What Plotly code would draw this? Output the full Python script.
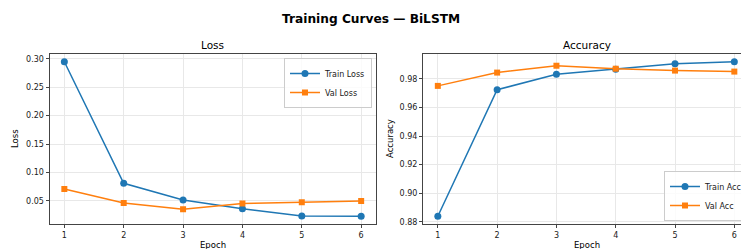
import plotly.graph_objects as go

epochs = [1, 2, 3, 4, 5, 6]
train_loss = [0.2948, 0.0810, 0.0515, 0.0362, 0.0235, 0.0230]
val_loss = [0.0708, 0.0463, 0.0353, 0.0456, 0.0478, 0.0498]
train_acc = [0.8839, 0.9724, 0.9832, 0.9867, 0.9906, 0.9920]
val_acc = [0.9751, 0.9844, 0.9892, 0.9871, 0.9858, 0.9851]
loss_ticks = [0.05, 0.10, 0.15, 0.20, 0.25, 0.30]
acc_ticks = [0.88, 0.90, 0.92, 0.94, 0.96, 0.98]

W, H = 741, 249
BLUE = "#1f77b4"
ORANGE = "#ff7f0e"
FONT = "DejaVu Sans"
TXT = "#1a1a1a"


def pad_range(*series):
    vals = [v for s in series for v in s]
    lo, hi = min(vals), max(vals)
    m = 0.05 * (hi - lo)
    return [lo - m, hi + m]


def px_x(p):
    return p / W


def px_y(p):
    return (H - p) / H


fig = go.Figure()

fig.add_trace(go.Scatter(x=epochs, y=train_loss, name="Train Loss", mode="lines+markers",
                         line=dict(color=BLUE, width=1.5), marker=dict(symbol="circle", size=7, color=BLUE),
                         xaxis="x", yaxis="y", legend="legend"))
fig.add_trace(go.Scatter(x=epochs, y=val_loss, name="Val Loss", mode="lines+markers",
                         line=dict(color=ORANGE, width=1.5), marker=dict(symbol="square", size=6, color=ORANGE),
                         xaxis="x", yaxis="y", legend="legend"))
fig.add_trace(go.Scatter(x=epochs, y=train_acc, name="Train Acc", mode="lines+markers",
                         line=dict(color=BLUE, width=1.5), marker=dict(symbol="circle", size=7, color=BLUE),
                         xaxis="x2", yaxis="y2", legend="legend2"))
fig.add_trace(go.Scatter(x=epochs, y=val_acc, name="Val Acc", mode="lines+markers",
                         line=dict(color=ORANGE, width=1.5), marker=dict(symbol="square", size=6, color=ORANGE),
                         xaxis="x2", yaxis="y2", legend="legend2"))

ydom = [px_y(224), px_y(54)]
axis_common = dict(showgrid=True, gridcolor="#e8e8e8", gridwidth=1, zeroline=False,
                   showline=True, linecolor="#444", linewidth=1, ticks="outside", ticklen=3,
                   tickcolor="#444", tickfont=dict(family=FONT, size=8, color=TXT))

fig.update_layout(
    width=W, height=H,
    margin=dict(l=0, r=0, t=0, b=0, autoexpand=False),
    paper_bgcolor="white", plot_bgcolor="white",
    font=dict(family=FONT, size=8, color=TXT),
    xaxis=dict(domain=[px_x(49.5), px_x(376)], range=[0.75, 6.25], anchor="y",
               tickvals=epochs, mirror=True, **axis_common),
    yaxis=dict(domain=ydom, range=pad_range(train_loss, val_loss), anchor="x",
               tickvals=loss_ticks, tickformat=".2f", mirror=True, **axis_common),
    xaxis2=dict(domain=[px_x(423), 1.0], range=[0.75, 0.75 + (741 - 423) / 59.3], anchor="y2",
                tickvals=epochs, mirror=True, **axis_common),
    yaxis2=dict(domain=ydom, range=pad_range(train_acc, val_acc), anchor="x2",
                tickvals=acc_ticks, tickformat=".2f", mirror=False, **axis_common),
    legend=dict(x=px_x(372), y=px_y(58), xanchor="right", yanchor="top",
                bgcolor="rgba(255,255,255,0.8)", bordercolor="#cccccc", borderwidth=1,
                font=dict(family=FONT, size=8, color=TXT), tracegroupgap=0),
    legend2=dict(x=px_x(664), y=px_y(221), xanchor="left", yanchor="bottom",
                 bgcolor="rgba(255,255,255,0.8)", bordercolor="#cccccc", borderwidth=1,
                 font=dict(family=FONT, size=8, color=TXT), tracegroupgap=0),
    showlegend=True,
)

annos = [
    dict(text="<b>Training Curves — BiLSTM</b>", x=px_x(371), y=px_y(19), size=12.2),
    dict(text="Loss", x=px_x(212.7), y=px_y(45), size=10.5),
    dict(text="Accuracy", x=px_x(586.5), y=px_y(45), size=10.5),
    dict(text="Epoch", x=px_x(212.7), y=px_y(245), size=8.5),
    dict(text="Epoch", x=px_x(586.5), y=px_y(245), size=8.5),
]
for a in annos:
    fig.add_annotation(text=a["text"], x=a["x"], y=a["y"], xref="paper", yref="paper",
                       xanchor="center", yanchor="middle", showarrow=False,
                       font=dict(family=FONT, size=a["size"], color="black"))

for txt, xp in [("Loss", 15), ("Accuracy", 390)]:
    fig.add_annotation(text=txt, x=px_x(xp), y=px_y(139), xref="paper", yref="paper",
                       xanchor="center", yanchor="middle", showarrow=False, textangle=-90,
                       font=dict(family=FONT, size=8.5, color="black"))

post = ("document.documentElement.style.margin='0';document.body.style.margin='0';"
        "document.body.style.padding='0';document.body.style.overflow='hidden';")
fig.write_html("out.html", config={"displayModeBar": False}, post_script=post)
